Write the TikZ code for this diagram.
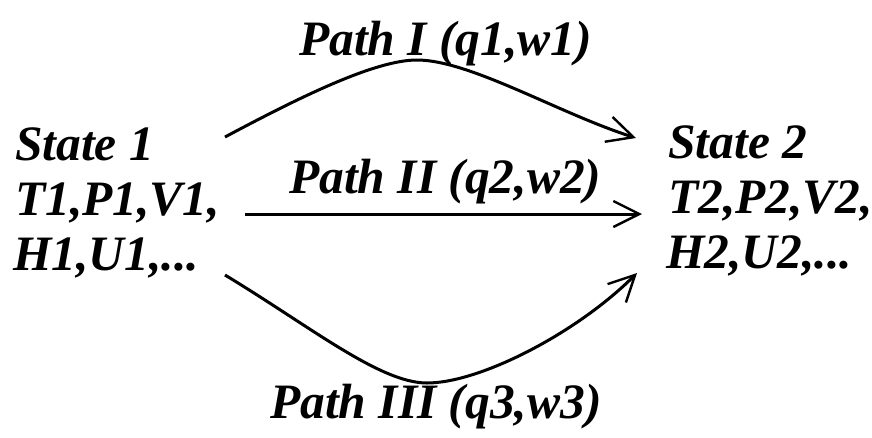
\documentclass[tikz,border=0pt]{standalone}
\usepackage{fontspec}
\setmainfont{Liberation Serif}
\usetikzlibrary{arrows.meta}
\begin{document}
\begin{tikzpicture}[x=1pt,y=-1pt,
  txt/.style={inner sep=0pt,anchor=base west,font=\fontsize{49.5}{55}\selectfont\bfseries\itshape},
  conn/.style={line width=3pt,-{Straight Barb[length=26pt,width=26pt,line width=2.4pt]}}]
\useasboundingbox (0,0) rectangle (872,437);
% states
\node[txt] (s1a) at (15,160) {State 1};
\node[txt] (s1b) at (15,215) {T1,P1,V1,};
\node[txt] (s1c) at (13,270) {H1,U1,...};
\node[txt] (s2a) at (668,158) {State 2};
\node[txt] (s2b) at (668,213) {T2,P2,V2,};
\node[txt] (s2c) at (666,268) {H2,U2,...};
% labels
\node[txt] (l1) at (299,55) {Path I (q1,w1)};
\node[txt] (l2) at (289,193) {Path II (q2,w2)};
\node[txt] (l3) at (270,418) {Path III (q3,w3)};
% connector ends
\coordinate (a1s) at (225,137);
\coordinate (a1m) at (417,60);
\coordinate (a1t) at (636,138);
\coordinate (a2s) at (245,214);
\coordinate (a2t) at (642,214);
\coordinate (a3s) at (225,275);
\coordinate (a3m) at (427,383);
\coordinate (a3t) at (637,273);
\draw[conn] (a1s) .. controls (300,97) and (375,60) .. (a1m)
  .. controls (470,60) and (560,114) .. (a1t);
\draw[conn] (a2s) -- (a2t);
\draw[conn] (a3s) .. controls (311,327) and (380,383) .. (a3m)
  .. controls (480,383) and (577,333) .. (a3t);
\end{tikzpicture}
\end{document}
